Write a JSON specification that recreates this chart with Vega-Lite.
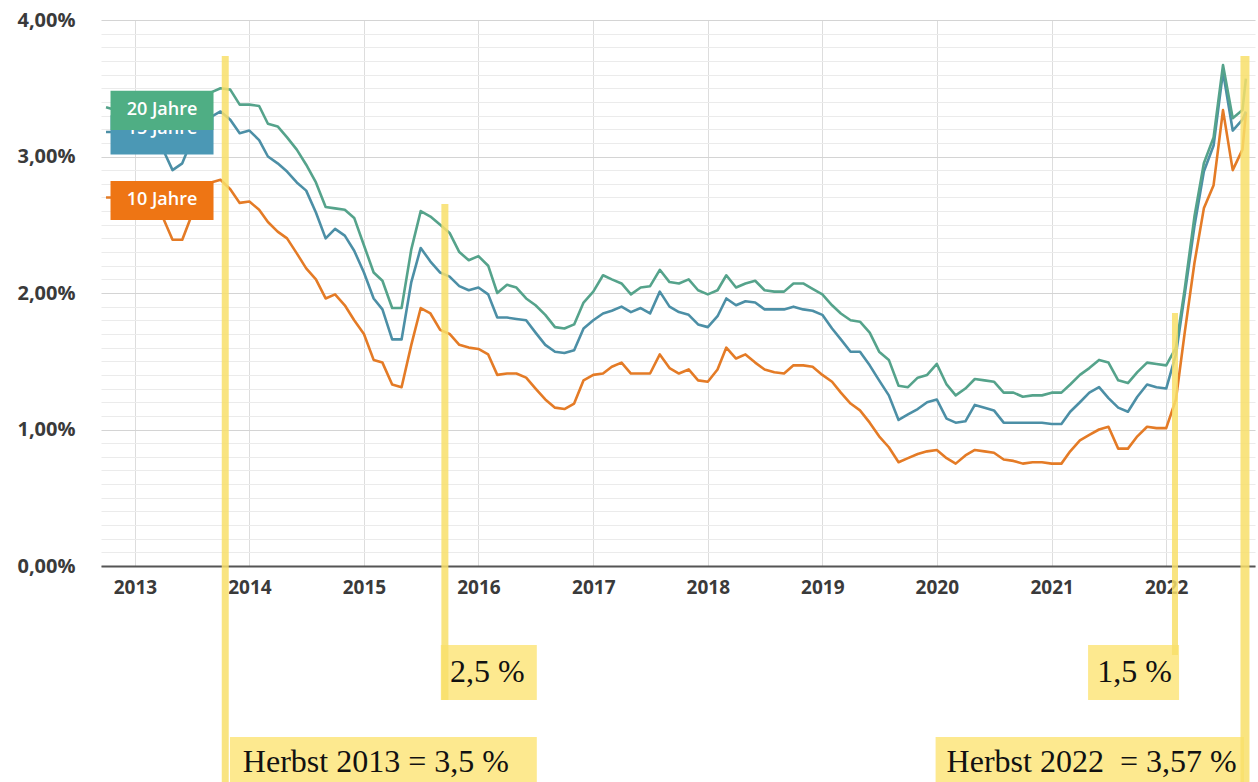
{
  "$schema": "https://vega.github.io/schema/vega-lite/v6.json",
  "width": 1154,
  "height": 546,
  "autosize": {"type": "none"},
  "padding": {"left": 101, "top": 20, "right": 3, "bottom": 216},
  "background": "white",
  "config": {"view": {"stroke": null}, "axis": {"labelOverlap": false}},
  "datasets": {
    "zins": [
      {"d": "2012-10-01", "10 Jahre": 2.70, "15 Jahre": 3.18, "20 Jahre": 3.36},
      {"d": "2012-11-01", "10 Jahre": 2.70, "15 Jahre": 3.18, "20 Jahre": 3.34},
      {"d": "2012-12-01", "10 Jahre": 2.70, "15 Jahre": 3.17, "20 Jahre": 3.30},
      {"d": "2013-01-01", "10 Jahre": 2.70, "15 Jahre": 3.16, "20 Jahre": 3.27},
      {"d": "2013-02-01", "10 Jahre": 2.68, "15 Jahre": 3.16, "20 Jahre": 3.23},
      {"d": "2013-03-01", "10 Jahre": 2.64, "15 Jahre": 3.12, "20 Jahre": 3.16},
      {"d": "2013-04-01", "10 Jahre": 2.55, "15 Jahre": 3.05, "20 Jahre": 3.12},
      {"d": "2013-05-01", "10 Jahre": 2.39, "15 Jahre": 2.90, "20 Jahre": 3.06},
      {"d": "2013-06-01", "10 Jahre": 2.39, "15 Jahre": 2.95, "20 Jahre": 3.12},
      {"d": "2013-07-01", "10 Jahre": 2.57, "15 Jahre": 3.12, "20 Jahre": 3.27},
      {"d": "2013-08-01", "10 Jahre": 2.72, "15 Jahre": 3.23, "20 Jahre": 3.41},
      {"d": "2013-09-01", "10 Jahre": 2.81, "15 Jahre": 3.29, "20 Jahre": 3.47},
      {"d": "2013-10-01", "10 Jahre": 2.83, "15 Jahre": 3.33, "20 Jahre": 3.50},
      {"d": "2013-11-01", "10 Jahre": 2.76, "15 Jahre": 3.27, "20 Jahre": 3.49},
      {"d": "2013-12-01", "10 Jahre": 2.66, "15 Jahre": 3.17, "20 Jahre": 3.38},
      {"d": "2014-01-01", "10 Jahre": 2.67, "15 Jahre": 3.19, "20 Jahre": 3.38},
      {"d": "2014-02-01", "10 Jahre": 2.61, "15 Jahre": 3.12, "20 Jahre": 3.37},
      {"d": "2014-03-01", "10 Jahre": 2.52, "15 Jahre": 3.00, "20 Jahre": 3.24},
      {"d": "2014-04-01", "10 Jahre": 2.45, "15 Jahre": 2.95, "20 Jahre": 3.22},
      {"d": "2014-05-01", "10 Jahre": 2.40, "15 Jahre": 2.89, "20 Jahre": 3.14},
      {"d": "2014-06-01", "10 Jahre": 2.29, "15 Jahre": 2.81, "20 Jahre": 3.05},
      {"d": "2014-07-01", "10 Jahre": 2.18, "15 Jahre": 2.75, "20 Jahre": 2.94},
      {"d": "2014-08-01", "10 Jahre": 2.10, "15 Jahre": 2.59, "20 Jahre": 2.81},
      {"d": "2014-09-01", "10 Jahre": 1.96, "15 Jahre": 2.40, "20 Jahre": 2.63},
      {"d": "2014-10-01", "10 Jahre": 1.99, "15 Jahre": 2.47, "20 Jahre": 2.62},
      {"d": "2014-11-01", "10 Jahre": 1.91, "15 Jahre": 2.42, "20 Jahre": 2.61},
      {"d": "2014-12-01", "10 Jahre": 1.80, "15 Jahre": 2.31, "20 Jahre": 2.55},
      {"d": "2015-01-01", "10 Jahre": 1.70, "15 Jahre": 2.15, "20 Jahre": 2.35},
      {"d": "2015-02-01", "10 Jahre": 1.51, "15 Jahre": 1.96, "20 Jahre": 2.15},
      {"d": "2015-03-01", "10 Jahre": 1.49, "15 Jahre": 1.88, "20 Jahre": 2.09},
      {"d": "2015-04-01", "10 Jahre": 1.33, "15 Jahre": 1.66, "20 Jahre": 1.89},
      {"d": "2015-05-01", "10 Jahre": 1.31, "15 Jahre": 1.66, "20 Jahre": 1.89},
      {"d": "2015-06-01", "10 Jahre": 1.62, "15 Jahre": 2.08, "20 Jahre": 2.32},
      {"d": "2015-07-01", "10 Jahre": 1.89, "15 Jahre": 2.33, "20 Jahre": 2.60},
      {"d": "2015-08-01", "10 Jahre": 1.85, "15 Jahre": 2.23, "20 Jahre": 2.56},
      {"d": "2015-09-01", "10 Jahre": 1.73, "15 Jahre": 2.15, "20 Jahre": 2.50},
      {"d": "2015-10-01", "10 Jahre": 1.70, "15 Jahre": 2.12, "20 Jahre": 2.44},
      {"d": "2015-11-01", "10 Jahre": 1.62, "15 Jahre": 2.05, "20 Jahre": 2.30},
      {"d": "2015-12-01", "10 Jahre": 1.60, "15 Jahre": 2.02, "20 Jahre": 2.24},
      {"d": "2016-01-01", "10 Jahre": 1.59, "15 Jahre": 2.04, "20 Jahre": 2.27},
      {"d": "2016-02-01", "10 Jahre": 1.55, "15 Jahre": 1.99, "20 Jahre": 2.20},
      {"d": "2016-03-01", "10 Jahre": 1.40, "15 Jahre": 1.82, "20 Jahre": 2.00},
      {"d": "2016-04-01", "10 Jahre": 1.41, "15 Jahre": 1.82, "20 Jahre": 2.06},
      {"d": "2016-05-01", "10 Jahre": 1.41, "15 Jahre": 1.81, "20 Jahre": 2.04},
      {"d": "2016-06-01", "10 Jahre": 1.38, "15 Jahre": 1.80, "20 Jahre": 1.96},
      {"d": "2016-07-01", "10 Jahre": 1.30, "15 Jahre": 1.71, "20 Jahre": 1.91},
      {"d": "2016-08-01", "10 Jahre": 1.22, "15 Jahre": 1.62, "20 Jahre": 1.84},
      {"d": "2016-09-01", "10 Jahre": 1.16, "15 Jahre": 1.57, "20 Jahre": 1.75},
      {"d": "2016-10-01", "10 Jahre": 1.15, "15 Jahre": 1.56, "20 Jahre": 1.74},
      {"d": "2016-11-01", "10 Jahre": 1.19, "15 Jahre": 1.58, "20 Jahre": 1.77},
      {"d": "2016-12-01", "10 Jahre": 1.36, "15 Jahre": 1.74, "20 Jahre": 1.93},
      {"d": "2017-01-01", "10 Jahre": 1.40, "15 Jahre": 1.80, "20 Jahre": 2.01},
      {"d": "2017-02-01", "10 Jahre": 1.41, "15 Jahre": 1.85, "20 Jahre": 2.13},
      {"d": "2017-03-01", "10 Jahre": 1.46, "15 Jahre": 1.87, "20 Jahre": 2.10},
      {"d": "2017-04-01", "10 Jahre": 1.49, "15 Jahre": 1.90, "20 Jahre": 2.07},
      {"d": "2017-05-01", "10 Jahre": 1.41, "15 Jahre": 1.86, "20 Jahre": 1.99},
      {"d": "2017-06-01", "10 Jahre": 1.41, "15 Jahre": 1.89, "20 Jahre": 2.04},
      {"d": "2017-07-01", "10 Jahre": 1.41, "15 Jahre": 1.85, "20 Jahre": 2.05},
      {"d": "2017-08-01", "10 Jahre": 1.55, "15 Jahre": 2.01, "20 Jahre": 2.17},
      {"d": "2017-09-01", "10 Jahre": 1.45, "15 Jahre": 1.90, "20 Jahre": 2.08},
      {"d": "2017-10-01", "10 Jahre": 1.41, "15 Jahre": 1.86, "20 Jahre": 2.07},
      {"d": "2017-11-01", "10 Jahre": 1.44, "15 Jahre": 1.84, "20 Jahre": 2.10},
      {"d": "2017-12-01", "10 Jahre": 1.36, "15 Jahre": 1.77, "20 Jahre": 2.02},
      {"d": "2018-01-01", "10 Jahre": 1.35, "15 Jahre": 1.75, "20 Jahre": 1.99},
      {"d": "2018-02-01", "10 Jahre": 1.44, "15 Jahre": 1.83, "20 Jahre": 2.02},
      {"d": "2018-03-01", "10 Jahre": 1.60, "15 Jahre": 1.96, "20 Jahre": 2.13},
      {"d": "2018-04-01", "10 Jahre": 1.52, "15 Jahre": 1.91, "20 Jahre": 2.04},
      {"d": "2018-05-01", "10 Jahre": 1.55, "15 Jahre": 1.94, "20 Jahre": 2.07},
      {"d": "2018-06-01", "10 Jahre": 1.49, "15 Jahre": 1.93, "20 Jahre": 2.09},
      {"d": "2018-07-01", "10 Jahre": 1.44, "15 Jahre": 1.88, "20 Jahre": 2.02},
      {"d": "2018-08-01", "10 Jahre": 1.42, "15 Jahre": 1.88, "20 Jahre": 2.01},
      {"d": "2018-09-01", "10 Jahre": 1.41, "15 Jahre": 1.88, "20 Jahre": 2.01},
      {"d": "2018-10-01", "10 Jahre": 1.47, "15 Jahre": 1.90, "20 Jahre": 2.07},
      {"d": "2018-11-01", "10 Jahre": 1.47, "15 Jahre": 1.88, "20 Jahre": 2.07},
      {"d": "2018-12-01", "10 Jahre": 1.46, "15 Jahre": 1.87, "20 Jahre": 2.03},
      {"d": "2019-01-01", "10 Jahre": 1.40, "15 Jahre": 1.84, "20 Jahre": 1.99},
      {"d": "2019-02-01", "10 Jahre": 1.35, "15 Jahre": 1.74, "20 Jahre": 1.91},
      {"d": "2019-03-01", "10 Jahre": 1.27, "15 Jahre": 1.66, "20 Jahre": 1.85},
      {"d": "2019-04-01", "10 Jahre": 1.19, "15 Jahre": 1.57, "20 Jahre": 1.80},
      {"d": "2019-05-01", "10 Jahre": 1.14, "15 Jahre": 1.57, "20 Jahre": 1.79},
      {"d": "2019-06-01", "10 Jahre": 1.05, "15 Jahre": 1.47, "20 Jahre": 1.71},
      {"d": "2019-07-01", "10 Jahre": 0.95, "15 Jahre": 1.36, "20 Jahre": 1.57},
      {"d": "2019-08-01", "10 Jahre": 0.87, "15 Jahre": 1.25, "20 Jahre": 1.51},
      {"d": "2019-09-01", "10 Jahre": 0.76, "15 Jahre": 1.07, "20 Jahre": 1.32},
      {"d": "2019-10-01", "10 Jahre": 0.79, "15 Jahre": 1.11, "20 Jahre": 1.31},
      {"d": "2019-11-01", "10 Jahre": 0.82, "15 Jahre": 1.15, "20 Jahre": 1.38},
      {"d": "2019-12-01", "10 Jahre": 0.84, "15 Jahre": 1.20, "20 Jahre": 1.40},
      {"d": "2020-01-01", "10 Jahre": 0.85, "15 Jahre": 1.22, "20 Jahre": 1.48},
      {"d": "2020-02-01", "10 Jahre": 0.79, "15 Jahre": 1.08, "20 Jahre": 1.33},
      {"d": "2020-03-01", "10 Jahre": 0.75, "15 Jahre": 1.05, "20 Jahre": 1.25},
      {"d": "2020-04-01", "10 Jahre": 0.81, "15 Jahre": 1.06, "20 Jahre": 1.30},
      {"d": "2020-05-01", "10 Jahre": 0.85, "15 Jahre": 1.18, "20 Jahre": 1.37},
      {"d": "2020-06-01", "10 Jahre": 0.84, "15 Jahre": 1.16, "20 Jahre": 1.36},
      {"d": "2020-07-01", "10 Jahre": 0.83, "15 Jahre": 1.14, "20 Jahre": 1.35},
      {"d": "2020-08-01", "10 Jahre": 0.78, "15 Jahre": 1.05, "20 Jahre": 1.27},
      {"d": "2020-09-01", "10 Jahre": 0.77, "15 Jahre": 1.05, "20 Jahre": 1.27},
      {"d": "2020-10-01", "10 Jahre": 0.75, "15 Jahre": 1.05, "20 Jahre": 1.24},
      {"d": "2020-11-01", "10 Jahre": 0.76, "15 Jahre": 1.05, "20 Jahre": 1.25},
      {"d": "2020-12-01", "10 Jahre": 0.76, "15 Jahre": 1.05, "20 Jahre": 1.25},
      {"d": "2021-01-01", "10 Jahre": 0.75, "15 Jahre": 1.04, "20 Jahre": 1.27},
      {"d": "2021-02-01", "10 Jahre": 0.75, "15 Jahre": 1.04, "20 Jahre": 1.27},
      {"d": "2021-03-01", "10 Jahre": 0.84, "15 Jahre": 1.13, "20 Jahre": 1.33},
      {"d": "2021-04-01", "10 Jahre": 0.92, "15 Jahre": 1.20, "20 Jahre": 1.40},
      {"d": "2021-05-01", "10 Jahre": 0.96, "15 Jahre": 1.27, "20 Jahre": 1.45},
      {"d": "2021-06-01", "10 Jahre": 1.00, "15 Jahre": 1.31, "20 Jahre": 1.51},
      {"d": "2021-07-01", "10 Jahre": 1.02, "15 Jahre": 1.23, "20 Jahre": 1.49},
      {"d": "2021-08-01", "10 Jahre": 0.86, "15 Jahre": 1.16, "20 Jahre": 1.36},
      {"d": "2021-09-01", "10 Jahre": 0.86, "15 Jahre": 1.13, "20 Jahre": 1.34},
      {"d": "2021-10-01", "10 Jahre": 0.95, "15 Jahre": 1.24, "20 Jahre": 1.42},
      {"d": "2021-11-01", "10 Jahre": 1.02, "15 Jahre": 1.33, "20 Jahre": 1.49},
      {"d": "2021-12-01", "10 Jahre": 1.01, "15 Jahre": 1.31, "20 Jahre": 1.48},
      {"d": "2022-01-01", "10 Jahre": 1.01, "15 Jahre": 1.30, "20 Jahre": 1.47},
      {"d": "2022-02-01", "10 Jahre": 1.22, "15 Jahre": 1.55, "20 Jahre": 1.60},
      {"d": "2022-03-01", "10 Jahre": 1.71, "15 Jahre": 1.99, "20 Jahre": 2.03},
      {"d": "2022-04-01", "10 Jahre": 2.22, "15 Jahre": 2.49, "20 Jahre": 2.56},
      {"d": "2022-05-01", "10 Jahre": 2.62, "15 Jahre": 2.89, "20 Jahre": 2.95},
      {"d": "2022-06-01", "10 Jahre": 2.79, "15 Jahre": 3.08, "20 Jahre": 3.14},
      {"d": "2022-07-01", "10 Jahre": 3.34, "15 Jahre": 3.62, "20 Jahre": 3.67},
      {"d": "2022-08-01", "10 Jahre": 2.90, "15 Jahre": 3.19, "20 Jahre": 3.28},
      {"d": "2022-09-01", "10 Jahre": 3.05, "15 Jahre": 3.27, "20 Jahre": 3.34},
      {"d": "2022-09-12", "10 Jahre": 3.32, "15 Jahre": 3.33, "20 Jahre": 3.57}
    ]
  },
  "layer": [
    {
      "data": {"name": "zins"},
      "transform": [{"fold": ["10 Jahre", "15 Jahre", "20 Jahre"], "as": ["Laufzeit", "Zins"]}],
      "mark": {"type": "line", "strokeWidth": 2.6, "strokeJoin": "round"},
      "encoding": {
        "x": {
          "field": "d", "type": "temporal",
          "scale": {"type": "utc", "domain": [{"year": 2012, "month": 9, "date": 15, "utc": true}, {"year": 2022, "month": 10, "date": 11, "utc": true}]},
          "axis": {
            "title": null,
            "values": [{"year": 2013, "utc": true}, {"year": 2014, "utc": true}, {"year": 2015, "utc": true}, {"year": 2016, "utc": true}, {"year": 2017, "utc": true}, {"year": 2018, "utc": true}, {"year": 2019, "utc": true}, {"year": 2020, "utc": true}, {"year": 2021, "utc": true}, {"year": 2022, "utc": true}],
            "tickCount": 50,
            "labelExpr": "utcFormat(datum.value, '%Y')",
            "grid": true, "gridColor": "#dddddd", "gridWidth": 1,
            "ticks": false,
            "domain": true, "domainColor": "#555555", "domainWidth": 2,
            "labelFont": "Open Sans", "labelFontWeight": "bold", "labelFontSize": 19, "labelColor": "#3a3a3a",
            "labelPadding": 12, "labelOverlap": false
          }
        },
        "y": {
          "field": "Zins", "type": "quantitative",
          "scale": {"domain": [0, 4], "nice": false},
          "axis": {
            "title": null,
            "values": [0, 0.1, 0.2, 0.3, 0.4, 0.5, 0.6, 0.7, 0.8, 0.9, 1, 1.1, 1.2, 1.3, 1.4, 1.5, 1.6, 1.7, 1.8, 1.9, 2, 2.1, 2.2, 2.3, 2.4, 2.5, 2.6, 2.7, 2.8, 2.9, 3, 3.1, 3.2, 3.3, 3.4, 3.5, 3.6, 3.7, 3.8, 3.9, 4],
            "tickCount": 100,
            "labelExpr": "abs(datum.value - round(datum.value)) < 0.001 ? replace(format(datum.value, '.2f'), '.', ',') + '%' : ''",
            "labelOverlap": false,
            "grid": true,
            "gridColor": {"condition": {"test": "abs(datum.value - round(datum.value)) < 0.001", "value": "#d4d4d4"}, "value": "#ebebeb"},
            "gridWidth": 1.2,
            "ticks": false, "domain": false,
            "labelFont": "Open Sans", "labelFontWeight": "bold", "labelFontSize": 20, "labelColor": "#3a3a3a",
            "labelPadding": 26
          }
        },
        "color": {
          "field": "Laufzeit", "type": "nominal",
          "scale": {"domain": ["10 Jahre", "15 Jahre", "20 Jahre"], "range": ["#e47b26", "#4c8fa6", "#55a38b"]},
          "legend": null
        }
      }
    },
    {
      "data": {"name": "zins"},
      "transform": [
        {"fold": ["10 Jahre", "15 Jahre", "20 Jahre"], "as": ["Laufzeit", "Zins"]},
        {"filter": {"field": "d", "equal": {"year": 2012, "month": 10, "date": 1, "utc": true}}},
        {"filter": "datum.Laufzeit == '10 Jahre'"}
      ],
      "layer": [
        {
          "mark": {"type": "point", "shape": "M-1,-0.38L1,-0.38L1,0.38L-1,0.38Z", "size": 10609, "filled": true, "opacity": 1, "strokeWidth": 0, "xOffset": 56, "yOffset": 3},
          "encoding": {
            "x": {"field": "d", "type": "temporal"},
            "y": {"field": "Zins", "type": "quantitative"},
            "fill": {"field": "Laufzeit", "type": "nominal", "scale": {"domain": ["10 Jahre", "15 Jahre", "20 Jahre"], "range": ["#ee7514", "#4b98b5", "#4fae84"]}, "legend": null}
          }
        },
        {
          "mark": {"type": "text", "color": "white", "font": "Open Sans", "fontWeight": 600, "fontSize": 18, "align": "center", "baseline": "middle", "xOffset": 56, "yOffset": 3},
          "encoding": {
            "x": {"field": "d", "type": "temporal"},
            "y": {"field": "Zins", "type": "quantitative"},
            "text": {"field": "Laufzeit"}
          }
        }
      ]
    },
    {
      "data": {"name": "zins"},
      "transform": [
        {"fold": ["10 Jahre", "15 Jahre", "20 Jahre"], "as": ["Laufzeit", "Zins"]},
        {"filter": {"field": "d", "equal": {"year": 2012, "month": 10, "date": 1, "utc": true}}},
        {"filter": "datum.Laufzeit == '15 Jahre'"}
      ],
      "layer": [
        {
          "mark": {"type": "point", "shape": "M-1,-0.38L1,-0.38L1,0.38L-1,0.38Z", "size": 10609, "filled": true, "opacity": 1, "strokeWidth": 0, "xOffset": 56, "yOffset": 3},
          "encoding": {
            "x": {"field": "d", "type": "temporal"},
            "y": {"field": "Zins", "type": "quantitative"},
            "fill": {"field": "Laufzeit", "type": "nominal", "legend": null}
          }
        },
        {
          "mark": {"type": "text", "color": "white", "font": "Open Sans", "fontWeight": 600, "fontSize": 18, "align": "center", "baseline": "middle", "xOffset": 56, "yOffset": -3},
          "encoding": {
            "x": {"field": "d", "type": "temporal"},
            "y": {"field": "Zins", "type": "quantitative"},
            "text": {"field": "Laufzeit"}
          }
        }
      ]
    },
    {
      "data": {"name": "zins"},
      "transform": [
        {"fold": ["10 Jahre", "15 Jahre", "20 Jahre"], "as": ["Laufzeit", "Zins"]},
        {"filter": {"field": "d", "equal": {"year": 2012, "month": 10, "date": 1, "utc": true}}},
        {"filter": "datum.Laufzeit == '20 Jahre'"}
      ],
      "layer": [
        {
          "mark": {"type": "point", "shape": "M-1,-0.38L1,-0.38L1,0.38L-1,0.38Z", "size": 10609, "filled": true, "opacity": 1, "strokeWidth": 0, "xOffset": 56, "yOffset": 3},
          "encoding": {
            "x": {"field": "d", "type": "temporal"},
            "y": {"field": "Zins", "type": "quantitative"},
            "fill": {"field": "Laufzeit", "type": "nominal", "legend": null}
          }
        },
        {
          "mark": {"type": "text", "color": "white", "font": "Open Sans", "fontWeight": 600, "fontSize": 18, "align": "center", "baseline": "middle", "xOffset": 56, "yOffset": 3},
          "encoding": {
            "x": {"field": "d", "type": "temporal"},
            "y": {"field": "Zins", "type": "quantitative"},
            "text": {"field": "Laufzeit"}
          }
        }
      ]
    },
    {
      "data": {"values": [{"label": "Herbst 2013 = 3,5 %"}]},
      "layer": [
        {
          "mark": {"type": "rect", "color": "#fde98f", "clip": false},
          "encoding": {
            "x": {"datum": {"year": 2013, "month": 10, "date": 31, "utc": true}, "type": "temporal"},
            "x2": {"datum": {"year": 2016, "month": 7, "date": 5, "utc": true}},
            "y": {"datum": -1.253, "type": "quantitative"},
            "y2": {"datum": -1.62}
          }
        },
        {
          "mark": {"type": "rule", "color": "#f8df6a", "strokeWidth": 7, "opacity": 0.85, "clip": false},
          "encoding": {
            "x": {"datum": {"year": 2013, "month": 10, "date": 16, "utc": true}, "type": "temporal"},
            "y": {"datum": 3.736, "type": "quantitative"},
            "y2": {"datum": -1.62}
          }
        },
        {
          "mark": {"type": "text", "font": "Liberation Serif", "fontSize": 32, "color": "#111111", "align": "left", "baseline": "middle", "clip": false},
          "encoding": {
            "x": {"datum": {"year": 2013, "month": 12, "date": 11, "utc": true}, "type": "temporal"},
            "y": {"datum": -1.436, "type": "quantitative"},
            "text": {"field": "label"}
          }
        }
      ]
    },
    {
      "data": {"values": [{"label": "2,5 %"}]},
      "layer": [
        {
          "mark": {"type": "rect", "color": "#fde98f", "clip": false},
          "encoding": {
            "x": {"datum": {"year": 2015, "month": 9, "date": 3, "utc": true}, "type": "temporal"},
            "x2": {"datum": {"year": 2016, "month": 7, "date": 5, "utc": true}},
            "y": {"datum": -0.579, "type": "quantitative"},
            "y2": {"datum": -0.982}
          }
        },
        {
          "mark": {"type": "rule", "color": "#f8df6a", "strokeWidth": 7, "opacity": 0.85, "clip": false},
          "encoding": {
            "x": {"datum": {"year": 2015, "month": 9, "date": 16, "utc": true}, "type": "temporal"},
            "y": {"datum": 2.652, "type": "quantitative"},
            "y2": {"datum": -0.982}
          }
        },
        {
          "mark": {"type": "text", "font": "Liberation Serif", "fontSize": 32, "color": "#111111", "align": "left", "baseline": "middle", "clip": false},
          "encoding": {
            "x": {"datum": {"year": 2015, "month": 10, "date": 2, "utc": true}, "type": "temporal"},
            "y": {"datum": -0.777, "type": "quantitative"},
            "text": {"field": "label"}
          }
        }
      ]
    },
    {
      "data": {"values": [{"label": "1,5 %"}]},
      "layer": [
        {
          "mark": {"type": "rect", "color": "#fde98f", "clip": false},
          "encoding": {
            "x": {"datum": {"year": 2021, "month": 4, "date": 27, "utc": true}, "type": "temporal"},
            "x2": {"datum": {"year": 2022, "month": 2, "date": 11, "utc": true}},
            "y": {"datum": -0.579, "type": "quantitative"},
            "y2": {"datum": -0.982}
          }
        },
        {
          "mark": {"type": "rule", "color": "#f8df6a", "strokeWidth": 6, "opacity": 0.85, "clip": false},
          "encoding": {
            "x": {"datum": {"year": 2022, "month": 1, "date": 29, "utc": true}, "type": "temporal"},
            "y": {"datum": 1.853, "type": "quantitative"},
            "y2": {"datum": -0.652}
          }
        },
        {
          "mark": {"type": "text", "font": "Liberation Serif", "fontSize": 32, "color": "#111111", "align": "left", "baseline": "middle", "clip": false},
          "encoding": {
            "x": {"datum": {"year": 2021, "month": 5, "date": 26, "utc": true}, "type": "temporal"},
            "y": {"datum": -0.777, "type": "quantitative"},
            "text": {"field": "label"}
          }
        }
      ]
    },
    {
      "data": {"values": [{"label": "Herbst 2022\u00a0 = 3,57 %"}]},
      "layer": [
        {
          "mark": {"type": "rect", "color": "#fde98f", "clip": false},
          "encoding": {
            "x": {"datum": {"year": 2019, "month": 12, "date": 28, "utc": true}, "type": "temporal"},
            "x2": {"datum": {"year": 2022, "month": 9, "date": 6, "utc": true}},
            "y": {"datum": -1.253, "type": "quantitative"},
            "y2": {"datum": -1.62}
          }
        },
        {
          "mark": {"type": "rule", "color": "#f8df6a", "strokeWidth": 9, "opacity": 0.85, "clip": false},
          "encoding": {
            "x": {"datum": {"year": 2022, "month": 9, "date": 9, "utc": true}, "type": "temporal"},
            "y": {"datum": 3.736, "type": "quantitative"},
            "y2": {"datum": -1.62}
          }
        },
        {
          "mark": {"type": "text", "font": "Liberation Serif", "fontSize": 32, "color": "#111111", "align": "left", "baseline": "middle", "clip": false},
          "encoding": {
            "x": {"datum": {"year": 2020, "month": 2, "date": 1, "utc": true}, "type": "temporal"},
            "y": {"datum": -1.436, "type": "quantitative"},
            "text": {"field": "label"}
          }
        }
      ]
    }
  ]
}
